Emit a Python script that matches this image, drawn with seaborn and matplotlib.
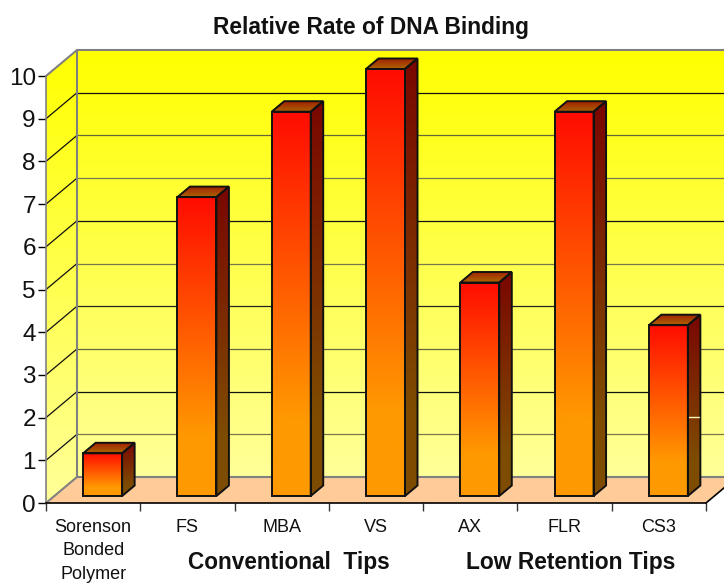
import numpy as np
import pandas as pd
import matplotlib
matplotlib.use("Agg")
import matplotlib.pyplot as plt
import seaborn as sns
from matplotlib.colors import LinearSegmentedColormap
from matplotlib.patches import Polygon

# ---- data ----
categories = ["Sorenson\nBonded\nPolymer", "FS", "MBA", "VS", "AX", "FLR", "CS3"]
rates = [1, 7, 9, 10, 5, 9, 4]
y_ticks = list(range(0, 11))
title = "Relative Rate of DNA Binding"
group_labels = ["Conventional  Tips", "Low Retention Tips"]

# ---- palette ----
front_colors = [(0, "#FF9900"), (0.2, "#FF9900"), (1, "#FF0C00")]
side_colors = [(0, "#7E4C00"), (0.2, "#7E4C00"), (1, "#7A0600")]
top_colors = [(0, "#AD6400"), (1, "#A02000")]
wall_colors = [(0, "#FFFF99"), (1, "#FFFF00")]
floor_color = "#FFCC99"
# gridlines on the back wall, levels 1..9 (they render unevenly in the reference)
grid_colors = ["#77774A", "#111111", "#666640", "#222222", "#777750", "#111111", "#777750", "#66663A", "#111111"]

sns.set_theme(style="white")
plt.rcParams["font.family"] = ["Liberation Sans", "DejaVu Sans"]

W, H = 724, 583
fig = plt.figure(figsize=(W / 100, H / 100), dpi=100)
L, R, T, B = 46, 706, 76, 503
ax = fig.add_axes([L / W, (H - B) / H, (R - L) / W, (B - T) / H])
ax.patch.set_alpha(0)

df = pd.DataFrame({"tip": categories, "rate": rates})
px_x = (R - L) / len(categories)
px_y = (B - T) / 10
bar_w = 39 / px_x
sns.barplot(data=df, x="tip", y="rate", width=bar_w, color="#FF9900",
            saturation=1, edgecolor="#111111", linewidth=1.4, ax=ax, zorder=5)

# projection offsets, converted from pixels to data units
wall_dx, wall_dy = 31 / px_x, 26 / px_y
bar_sx, bar_sy = 9.5 / px_x, 7 / px_y
bar_dx, bar_dy = 12.5 / px_x, 10.5 / px_y
n = len(categories)
x_lo, x_hi, y_hi = -0.5, n - 0.5, 10
ramp = np.linspace(0, 1, 256)[:, None]


def gradient(poly_pts, colors, z):
    """Fill a polygon with a vertical gradient through a clipped image."""
    pts = np.array(poly_pts)
    cmap = LinearSegmentedColormap.from_list("g", colors)
    im = ax.imshow(ramp, cmap=cmap, origin="lower", aspect="auto", zorder=z,
                   interpolation="bilinear",
                   extent=(pts[:, 0].min(), pts[:, 0].max(), pts[:, 1].min(), pts[:, 1].max()))
    clip = Polygon(pts, closed=True, facecolor="none", edgecolor="none", clip_on=False, zorder=z)
    ax.add_patch(clip)
    im.set_clip_box(fig.bbox)
    im.set_clip_path(clip)


# walls and floor
gradient([(x_lo + wall_dx, wall_dy), (x_hi + wall_dx, wall_dy),
          (x_hi + wall_dx, y_hi + wall_dy), (x_lo + wall_dx, y_hi + wall_dy)], wall_colors, 0.5)
gradient([(x_lo, 0), (x_lo + wall_dx, wall_dy), (x_lo + wall_dx, y_hi + wall_dy), (x_lo, y_hi)],
         wall_colors, 0.5)
ax.add_patch(Polygon([(x_lo, 0), (x_hi, 0), (x_hi + wall_dx, wall_dy), (x_lo + wall_dx, wall_dy)],
                     closed=True, facecolor=floor_color, edgecolor="none", clip_on=False, zorder=0.6))

# gridlines on the back and left walls
for v, gc in zip(y_ticks[1:-1], grid_colors):
    ax.plot([x_lo + wall_dx, x_hi + wall_dx], [v + wall_dy] * 2, color=gc, lw=0.9, clip_on=False, zorder=1)
    ax.plot([x_lo, x_lo + wall_dx], [v, v + wall_dy], color="#111111", lw=0.9, clip_on=False, zorder=1)
wall_kw = dict(color="#808080", lw=1.5, clip_on=False, zorder=1.2)
ax.plot([x_lo, x_lo + wall_dx, x_hi + wall_dx], [y_hi, y_hi + wall_dy, y_hi + wall_dy], **wall_kw)
ax.plot([x_lo + wall_dx, x_lo + wall_dx], [wall_dy, y_hi + wall_dy], **wall_kw)
ax.plot([x_lo, x_lo + wall_dx, x_hi + wall_dx], [0, wall_dy, wall_dy], **wall_kw)
ax.plot([x_hi, x_hi + wall_dx], [0, wall_dy], color="black", lw=1.2, clip_on=False, zorder=1.2)

# bars: shift the seaborn bars onto the floor and add their 3-D faces
last_right = None
for patch in ax.patches[:n]:
    x0 = patch.get_x() + bar_sx
    w = patch.get_width()
    h = patch.get_height()
    y0, y1 = bar_sy, h + bar_sy
    x1 = x0 + w
    patch.set_x(x0)
    patch.set_y(y0)
    patch.set_facecolor("none")
    patch.set_clip_on(False)
    gradient([(x0, y0), (x1, y0), (x1, y1), (x0, y1)], front_colors, 4)
    side = [(x1, y0), (x1 + bar_dx, y0 + bar_dy), (x1 + bar_dx, y1 + bar_dy), (x1, y1)]
    topf = [(x0, y1), (x1, y1), (x1 + bar_dx, y1 + bar_dy), (x0 + bar_dx, y1 + bar_dy)]
    gradient(side, side_colors, 4)
    gradient(topf, top_colors, 4)
    for face in (side, topf):
        ax.add_patch(Polygon(face, closed=True, facecolor="none", edgecolor="#111111",
                             lw=1.4, clip_on=False, zorder=5))
    last_right = x1

# the small pale streak on the last bar's side face
ax.plot([last_right + 1 / px_x, last_right + 11 / px_x], [2.01, 2.01], color="#FFF6C0", lw=1,
        clip_on=False, zorder=6)

# axes
ax.set_xlim(x_lo, x_hi)
ax.set_ylim(0, y_hi)
ax.set_xlabel("")
ax.set_ylabel("")
ax.set_yticks(y_ticks)
ax.set_xticks(range(n))
ax.set_xticklabels(categories, fontsize=13, color="#111111", linespacing=1.5)
ax.set_xticks(np.arange(x_lo, x_hi + 1), minor=True)
ax.tick_params(axis="x", which="major", length=0, pad=11.5)
ax.tick_params(axis="x", which="minor", length=5.8, width=1, color="#333333", bottom=True)
ax.tick_params(axis="y", length=5.8, width=1, color="black", labelsize=17.5, pad=1.5, left=True, labelcolor="#111111")
for s in ("top", "right"):
    ax.spines[s].set_visible(False)
ax.spines["left"].set_color("#808080")
ax.spines["left"].set_linewidth(1.2)
ax.spines["bottom"].set_color("black")
ax.spines["bottom"].set_linewidth(1.2)
for s in ax.spines.values():
    s.set_zorder(2)

ax.set_title(title, x=(370.5 - L) / (R - L), pad=30, fontsize=16.4, fontweight="bold", color="#111111")
fig.text(288.5 / W, 1 - 562.5 / H, group_labels[0], ha="center", va="center",
         fontsize=16.3, fontweight="bold", color="#111111")
fig.text(570.5 / W, 1 - 562.5 / H, group_labels[1], ha="center", va="center",
         fontsize=16.4, fontweight="bold", color="#111111")

fig.savefig("out.png", dpi=100)
